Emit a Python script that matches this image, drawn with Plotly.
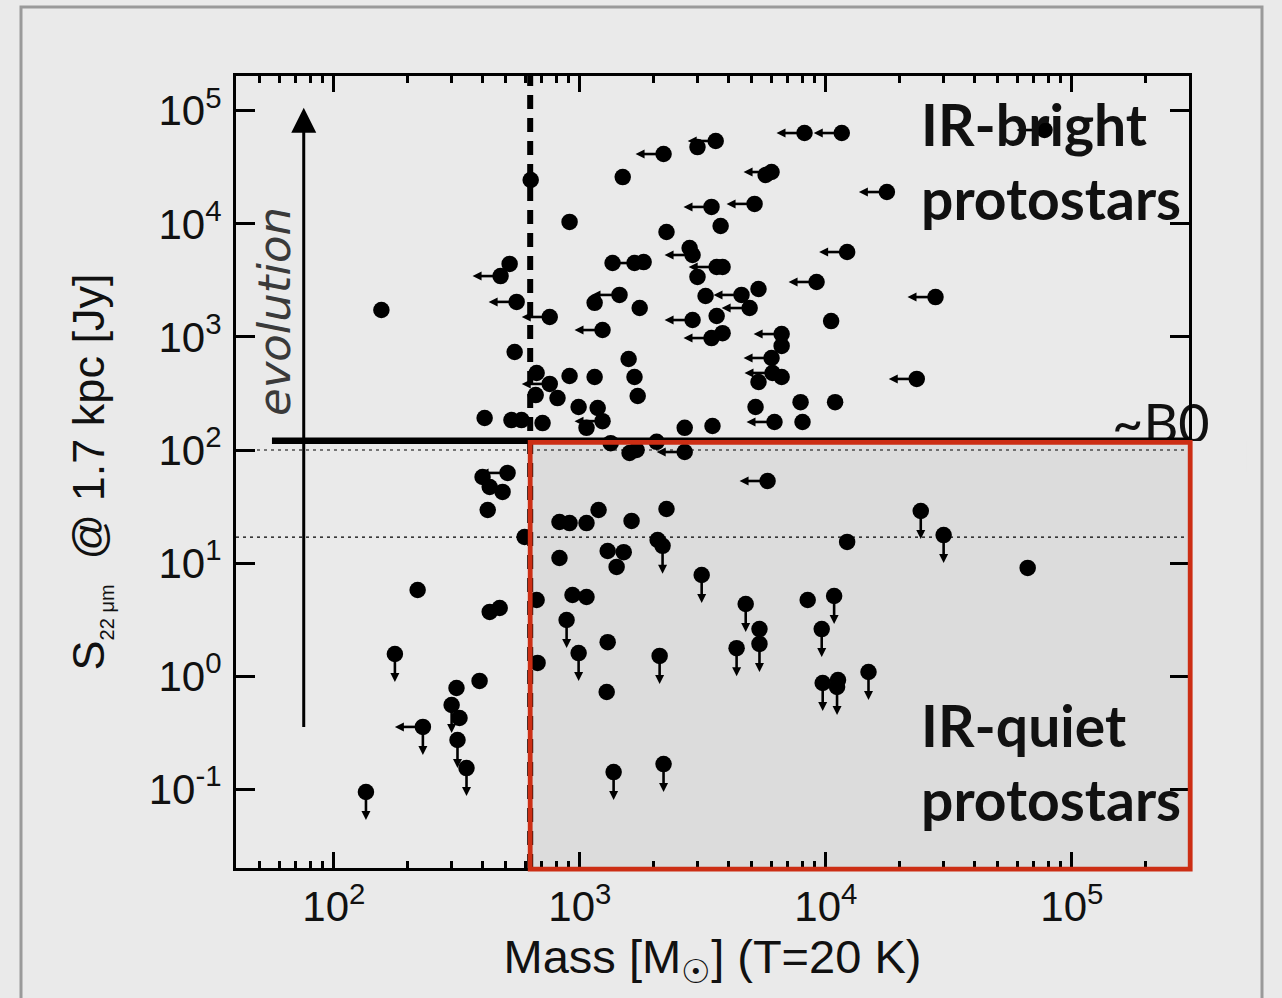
import numpy as np
import plotly.graph_objects as go

# ---- data ----------------------------------------------------------------
# clump mass [Msun] (T = 20 K)
mass = [
    631, 908, 156, 518, 476, 553, 754, 543, 1358, 1667,
    1816, 2793, 2871, 3597, 3802, 3006, 1449, 1148, 1750, 1236,
    2871, 3243, 4539, 4898, 3597, 3802, 3428, 1578, 1667, 1718,
    667, 754, 908, 1148, 661, 811, 988, 1181, 1236, 1064,
    410, 527, 579, 705, 2667, 3459, 1334, 1592, 1700, 2051,
    2667, 508, 402, 430, 485, 422, 11600, 8184, 3565, 3006,
    2188, 1493, 6012, 5689, 17700, 3428, 5129, 2249, 3733, 12200,
    9162, 5321, 27900, 10500, 6607, 6607, 6012, 6067, 6607, 5321,
    5176, 7889, 10900, 6180, 8035, 23400, 77400, 5794,
    826, 908, 1064, 1191, 1622, 2249, 596, 826, 219, 430,
    472, 667, 933, 1064, 883, 2070, 2168, 1297, 1507, 1410,
    12200, 24300, 30100, 66100, 3126, 4721, 8433, 10800, 5370, 5370,
    9616, 1297, 988, 1285, 2109, 4335, 9705, 11200, 11100, 14900,
    1371, 2188, 673, 177, 391, 315, 301, 324, 318, 346,
    230, 135, 37,
]
# 22 micron flux scaled to 1.7 kpc [Jy]
s22 = [
    24400, 10400, 1730, 4420, 3450, 2040, 1500, 735, 4500, 4500,
    4590, 6110, 5300, 4150, 4150, 3390, 2350, 2000, 1800, 1150,
    1410, 2300, 2350, 1800, 1530, 1080, 977, 638, 442, 300,
    480, 384, 451, 442, 306, 288, 240, 235, 180, 157,
    192, 184, 184, 173, 157, 163, 115, 94, 100, 118,
    96, 62.7, 57.7, 47.1, 42.6, 29.5, 63500, 63500, 54000, 47700,
    41400, 25900, 28700, 27000, 19100, 14100, 15000, 8460, 9570, 5630,
    3060, 2650, 2250, 1380, 1060, 832, 651, 480, 442, 399,
    240, 265, 265, 177, 177, 425, 67500, 53.2,
    23.1, 22.6, 22.6, 29.5, 23.6, 30.1, 17.0, 11.1, 5.78, 3.70,
    4.01, 4.72, 5.22, 5.01, 3.14, 16.0, 14.2, 12.8, 12.5, 9.25,
    15.4, 28.9, 17.7, 9.06, 7.85, 4.35, 4.72, 5.12, 2.61, 1.93,
    2.61, 2.00, 1.60, 0.725, 1.51, 1.77, 0.871, 0.925, 0.802, 1.09,
    0.142, 0.167, 1.31, 1.57, 0.908, 0.787, 0.556, 0.427, 0.273, 0.154,
    0.356, 0.0946, 40,
]
# limit flags: "" detection, "l" mass upper limit, "d" flux upper limit
limit = [
    "", "", "", "", "l", "l", "l", "", "", "l",
    "", "", "l", "l", "", "", "l", "", "", "l",
    "l", "", "l", "l", "", "", "l", "", "", "",
    "", "l", "", "", "", "", "", "", "l", "",
    "", "", "", "", "", "", "", "", "", "",
    "l", "l", "", "", "", "", "l", "l", "l", "",
    "l", "", "l", "", "l", "l", "l", "", "", "l",
    "l", "", "l", "", "l", "", "l", "l", "", "",
    "", "", "", "l", "", "l", "l", "l",
    "", "", "", "", "", "", "", "", "", "",
    "", "", "", "", "d", "", "d", "", "", "",
    "", "d", "d", "", "d", "d", "", "d", "", "d",
    "d", "", "d", "", "d", "d", "d", "", "d", "d",
    "d", "d", "", "d", "", "", "d", "", "d", "d",
    "ld", "d", "",
]

x_tick_vals = [1e2, 1e3, 1e4, 1e5]
x_tick_text = ["10<sup>2</sup>", "10<sup>3</sup>", "10<sup>4</sup>", "10<sup>5</sup>"]
y_tick_vals = [1e-1, 1e0, 1e1, 1e2, 1e3, 1e4, 1e5]
y_tick_text = ["10<sup>-1</sup>", "10<sup>0</sup>", "10<sup>1</sup>", "10<sup>2</sup>",
               "10<sup>3</sup>", "10<sup>4</sup>", "10<sup>5</sup>"]

mass_cut = 628          # vertical dashed line / left edge of IR-quiet box
b0_flux = 121           # ~B0 luminosity line
box_top = 117           # top of IR-quiet box
dotted_levels = [100, 17]
evo_x, evo_y0, evo_y1 = 75.4, 0.356, 1.06e5

# ---- layout geometry -----------------------------------------------------
W, H = 1282, 998
ML, MR, MT, MB = 236, 93, 76, 130
x_range = [np.log10(40), 5.476]
y_range = [-1.696, 5.307]
x_max = 10 ** x_range[1]
y_min = 10 ** y_range[0]
px_dec_x = (W - ML - MR) / (x_range[1] - x_range[0])
px_dec_y = (H - MT - MB) / (y_range[1] - y_range[0])

BG = "#eaeaea"
BOX = "#dcdcdc"
RED = "#cc2e14"

ARROW_LEN, HEAD_LEN, HEAD_SIZE = 28, 7, 9

fig = go.Figure()

# limit arrows (line + arrowhead), built from the data through the axis scales
lx, ly, hx, hy = [], [], [], []
dx, dy, dhx, dhy = [], [], [], []
for m, s, f in zip(mass, s22, limit):
    if "l" in f:
        lx += [m, m * 10 ** (-(ARROW_LEN - HEAD_LEN + 1) / px_dec_x), None]
        ly += [s, s, None]
        hx.append(m * 10 ** (-ARROW_LEN / px_dec_x))
        hy.append(s)
    if "d" in f:
        dx += [m, m, None]
        dy += [s, s * 10 ** (-(ARROW_LEN - HEAD_LEN + 1) / px_dec_y), None]
        dhx.append(m)
        dhy.append(s * 10 ** (-ARROW_LEN / px_dec_y))

fig.add_trace(go.Scatter(x=lx + dx, y=ly + dy, mode="lines",
                         line=dict(color="black", width=2.6),
                         hoverinfo="skip", showlegend=False))
fig.add_trace(go.Scatter(x=hx, y=hy, mode="markers",
                         marker=dict(symbol="arrow-left", size=HEAD_SIZE, color="black",
                                     line=dict(width=0)),
                         hoverinfo="skip", showlegend=False))
fig.add_trace(go.Scatter(x=dhx, y=dhy, mode="markers",
                         marker=dict(symbol="arrow-down", size=HEAD_SIZE, color="black",
                                     line=dict(width=0)),
                         hoverinfo="skip", showlegend=False))

fig.add_trace(go.Scatter(
    x=mass, y=s22, mode="markers",
    marker=dict(size=16.5, color="black", line=dict(width=0)),
    hoverinfo="skip", showlegend=False))

# "evolution" arrow
fig.add_trace(go.Scatter(x=[evo_x, evo_x], y=[evo_y0, evo_y1 * 10 ** (-20 / px_dec_y)],
                         mode="lines", line=dict(color="black", width=3),
                         hoverinfo="skip", showlegend=False))
fig.add_trace(go.Scatter(x=[evo_x], y=[evo_y1], mode="markers",
                         marker=dict(symbol="arrow-up", size=25, color="black",
                                     line=dict(width=0)),
                         cliponaxis=False, hoverinfo="skip", showlegend=False))

fig.add_trace(go.Scatter(
    x=[2.30e5], y=[153], mode="text", text=["~B0"],
    textfont=dict(family="Lato", size=54, color="#111"),
    textposition="middle center", cliponaxis=False,
    hoverinfo="skip", showlegend=False))

# paper positions of the IR-quiet box
bx0 = (np.log10(mass_cut) - x_range[0]) / (x_range[1] - x_range[0])
by1 = (np.log10(box_top) - y_range[0]) / (y_range[1] - y_range[0])

shapes = [
    dict(type="rect", xref="x", yref="y", x0=mass_cut, x1=x_max, y0=y_min, y1=box_top,
         fillcolor=BOX, line=dict(width=0), layer="below"),
    # masks hiding the lower part of "~B0"
    dict(type="rect", xref="paper", yref="paper", x0=0.90, x1=1.0, y0=0.50, y1=0.542,
         fillcolor=BOX, line=dict(width=0), layer="above"),
    dict(type="rect", xref="paper", yref="paper", x0=1.0, x1=1.06, y0=0.50, y1=0.539,
         fillcolor=BG, line=dict(width=0), layer="above"),
]
for lv in dotted_levels:
    shapes.append(dict(type="line", xref="x", yref="y", x0=40, x1=x_max, y0=lv, y1=lv,
                       line=dict(color="black", width=1.2, dash="3px,4px"), layer="above"))
shapes += [
    dict(type="line", xref="x", yref="y domain", x0=mass_cut, x1=mass_cut, y0=0, y1=1,
         line=dict(color="black", width=6, dash="14px,9px"), layer="above"),
    dict(type="line", xref="x", yref="y", x0=56, x1=x_max, y0=b0_flux, y1=b0_flux,
         line=dict(color="black", width=6.5), layer="above"),
    dict(type="rect", xref="paper", yref="paper",
         x0=bx0, x1=1 + 1.2 / (W - ML - MR), y0=-1.2 / (H - MT - MB), y1=by1,
         line=dict(color=RED, width=4.8), fillcolor="rgba(0,0,0,0)", layer="above"),
    dict(type="rect", xref="paper", yref="paper", x0=-0.2256, x1=1.0766, y0=-0.25, y1=1.087,
         line=dict(color="#9a9a9a", width=3), fillcolor="rgba(0,0,0,0)", layer="above"),
]

annotations = [
    dict(x=0.0399, y=0.702, xref="paper", yref="paper", xanchor="center", yanchor="middle",
         text="<i>evolution</i>", textangle=-90, showarrow=False,
         font=dict(family="DejaVu Sans", size=45, color="#3a3a3a")),
    dict(x=0.7168, y=0.8927, xref="paper", yref="paper", xanchor="left",
         yanchor="middle", align="left", showarrow=False,
         text="<b>IR-bright</b><br><b>protostars</b>",
         font=dict(family="Lato", size=57, color="#111")),
    dict(x=0.7168, y=0.1338, xref="paper", yref="paper", xanchor="left",
         yanchor="middle", align="left", showarrow=False,
         text="<b>IR-quiet</b><br><b>protostars</b>",
         font=dict(family="Lato", size=57, color="#111")),
]

axis_common = dict(
    type="log", showgrid=False, zeroline=False, showline=True, linecolor="black",
    linewidth=3, mirror="ticks", ticks="inside", tickwidth=3, tickcolor="black",
    tickfont=dict(family="Liberation Sans", size=42, color="#111"),
)

fig.update_layout(
    width=W, height=H,
    margin=dict(l=ML, r=MR, t=MT, b=MB, autoexpand=False),
    paper_bgcolor=BG, plot_bgcolor=BG,
    showlegend=False,
    shapes=shapes, annotations=annotations,
    xaxis=dict(**axis_common, range=x_range, ticklen=16,
               tickmode="array", tickvals=x_tick_vals, ticktext=x_tick_text,
               minor=dict(ticks="inside", ticklen=7, tickwidth=2.5, tickcolor="black",
                          dtick="D1", showgrid=False),
               title=dict(text="Mass [M<sub>☉</sub>] (T=20 K)", standoff=0,
                          font=dict(family="Liberation Sans", size=47, color="#111"))),
    yaxis=dict(**axis_common, range=y_range, ticklen=19,
               tickmode="array", tickvals=y_tick_vals, ticktext=y_tick_text,
               ticklabelstandoff=3,
               title=dict(text="S<sub><span style='font-size:20px'>22 μm</span></sub>  @ 1.7 kpc [Jy]",
                          standoff=30,
                          font=dict(family="Liberation Sans", size=45, color="#111"))),
)

fig.write_html("out.html")
